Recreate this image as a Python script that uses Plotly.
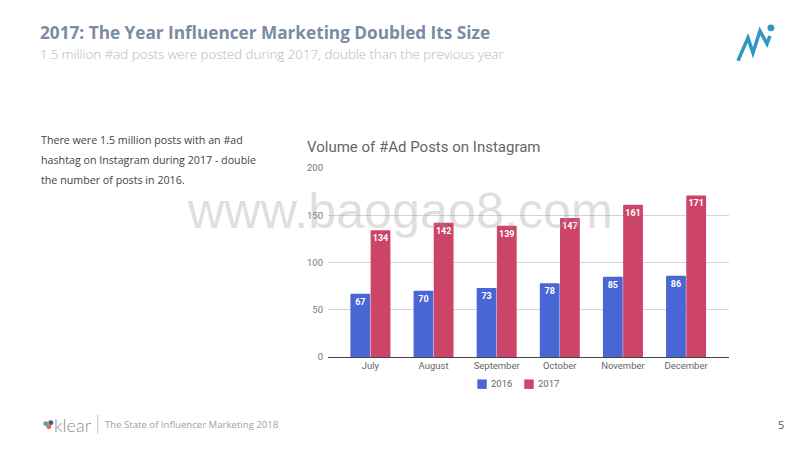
import plotly.graph_objects as go

months = ["July", "August", "September", "October", "November", "December"]
posts_2016 = [67, 70, 73, 78, 85, 86]
posts_2017 = [134, 142, 139, 147, 161, 171]
y_ticks = [0, 50, 100, 150, 200]
COL_2016 = "#4a65d4"
COL_2017 = "#cc4569"

fig = go.Figure()
for name, vals, col in [("2016", posts_2016, COL_2016), ("2017", posts_2017, COL_2017)]:
    fig.add_trace(go.Bar(
        x=months, y=vals, name=name, marker=dict(color=col, line_width=0),
        text=vals, textposition="inside", insidetextanchor="end", textangle=0,
        constraintext="none", showlegend=False,
        textfont=dict(family="Roboto", size=9, color="white", weight="bold"),
    ))

def px(x): return (x-327.5)/401.5
def py(y): return (357-y)/189.5

def note(x, y, text, size, color, family="Open Sans", anchor="left", weight=None):
    fig.add_annotation(xref="paper", yref="paper", x=px(x), y=py(y),
                       text=text, showarrow=False, xanchor=anchor, yanchor="middle", borderpad=0, borderwidth=0,
                       font=dict(family=family, size=size, color=color, weight=weight))

note(39.5, 32, "2017: The Year Influencer Marketing Doubled Its Size", 17.2, "#7a8ba2", "Open Sans", weight=700)
note(39.5, 53, "1.5 million #ad posts were posted during 2017, double than the previous year", 13.3, "#b4b8bc", "Open Sans", weight=300)
note(40, 139, "There were 1.5 million posts with an #ad", 10.7, "#444444")
note(40, 159.5, "hashtag on Instagram during 2017 - double", 10.7, "#444444")
note(40, 180, "the number of posts in 2016.", 10.7, "#444444")
note(306, 146, "Volume of #Ad Posts on Instagram", 15, "#666666", "Roboto")
note(186, 210, "www.baogao8.com", 50.3, "rgba(150,150,150,0.3)", "Liberation Sans")
note(53, 425, "klear", 18, "#8a8f94", "Lato", weight=300)
note(104.5, 425, "The State of Influencer Marketing 2018", 9.6, "#9aa2aa", "Open Sans")
note(784, 425, "5", 11, "#555555", "Open Sans", anchor="right")

# legend, drawn to match the reference's tight swatch spacing
for name, col, sx in [("2016", COL_2016, 477), ("2017", COL_2017, 524)]:
    fig.add_shape(type="rect", xref="paper", yref="paper", x0=px(sx), x1=px(sx+9.5), y0=py(389), y1=py(379.5),
                  fillcolor=col, line_width=0)
    note(sx+14, 384, name, 9.5, "#666666", "Roboto")

# footer divider
fig.add_shape(type="line", xref="paper", yref="paper", x0=px(97), x1=px(97), y0=py(415), y1=py(434),
              line=dict(color="#b9bfc4", width=1))
# klear mark
for cx, cy, col in [(45, 424, "#5ba7a0"), (50, 423, "#3f5f7a"), (48, 427, "#d9703f")]:
    fig.add_shape(type="circle", xref="paper", yref="paper", x0=px(cx-2.5), x1=px(cx+2.5), y0=py(cy+2.5), y1=py(cy-2.5),
                  fillcolor=col, line_width=0)
# top-right logo
pts = [(738, 60), (748, 37), (753, 52), (760, 30), (767, 43), (770, 35)]
path = "M " + " L ".join(f"{px(x):.5f},{py(y):.5f}" for x, y in pts)
fig.add_shape(type="path", xref="paper", yref="paper", path=path, line=dict(color="#2f97c4", width=3.5))
fig.add_shape(type="circle", xref="paper", yref="paper", x0=px(767.5), x1=px(774.5), y0=py(30.5), y1=py(23.5),
              fillcolor="#2f97c4", line_width=0)

fig.update_layout(
    width=792, height=442, autosize=False, paper_bgcolor="white", plot_bgcolor="white",
    margin=dict(l=319.5, r=71, t=159.5, b=93),
    barmode="group", bargap=0.36, bargroupgap=0.02, barcornerradius=1,
    showlegend=False,
    font=dict(family="Roboto"),
)
fig.update_xaxes(range=[-0.672, 5.68], showline=True, linecolor="#444444", linewidth=1, ticks="",
                 tickfont=dict(family="Roboto", size=9.5, color="#666666"), showgrid=False)
fig.update_yaxes(range=[0, 200], tickvals=y_ticks, showgrid=True, gridcolor="#d4d4d8", gridwidth=1, zeroline=False,
                 tickfont=dict(family="Roboto", size=9.5, color="#777777"), ticks="", ticklabelstandoff=4)
fig.write_html("out.html")
